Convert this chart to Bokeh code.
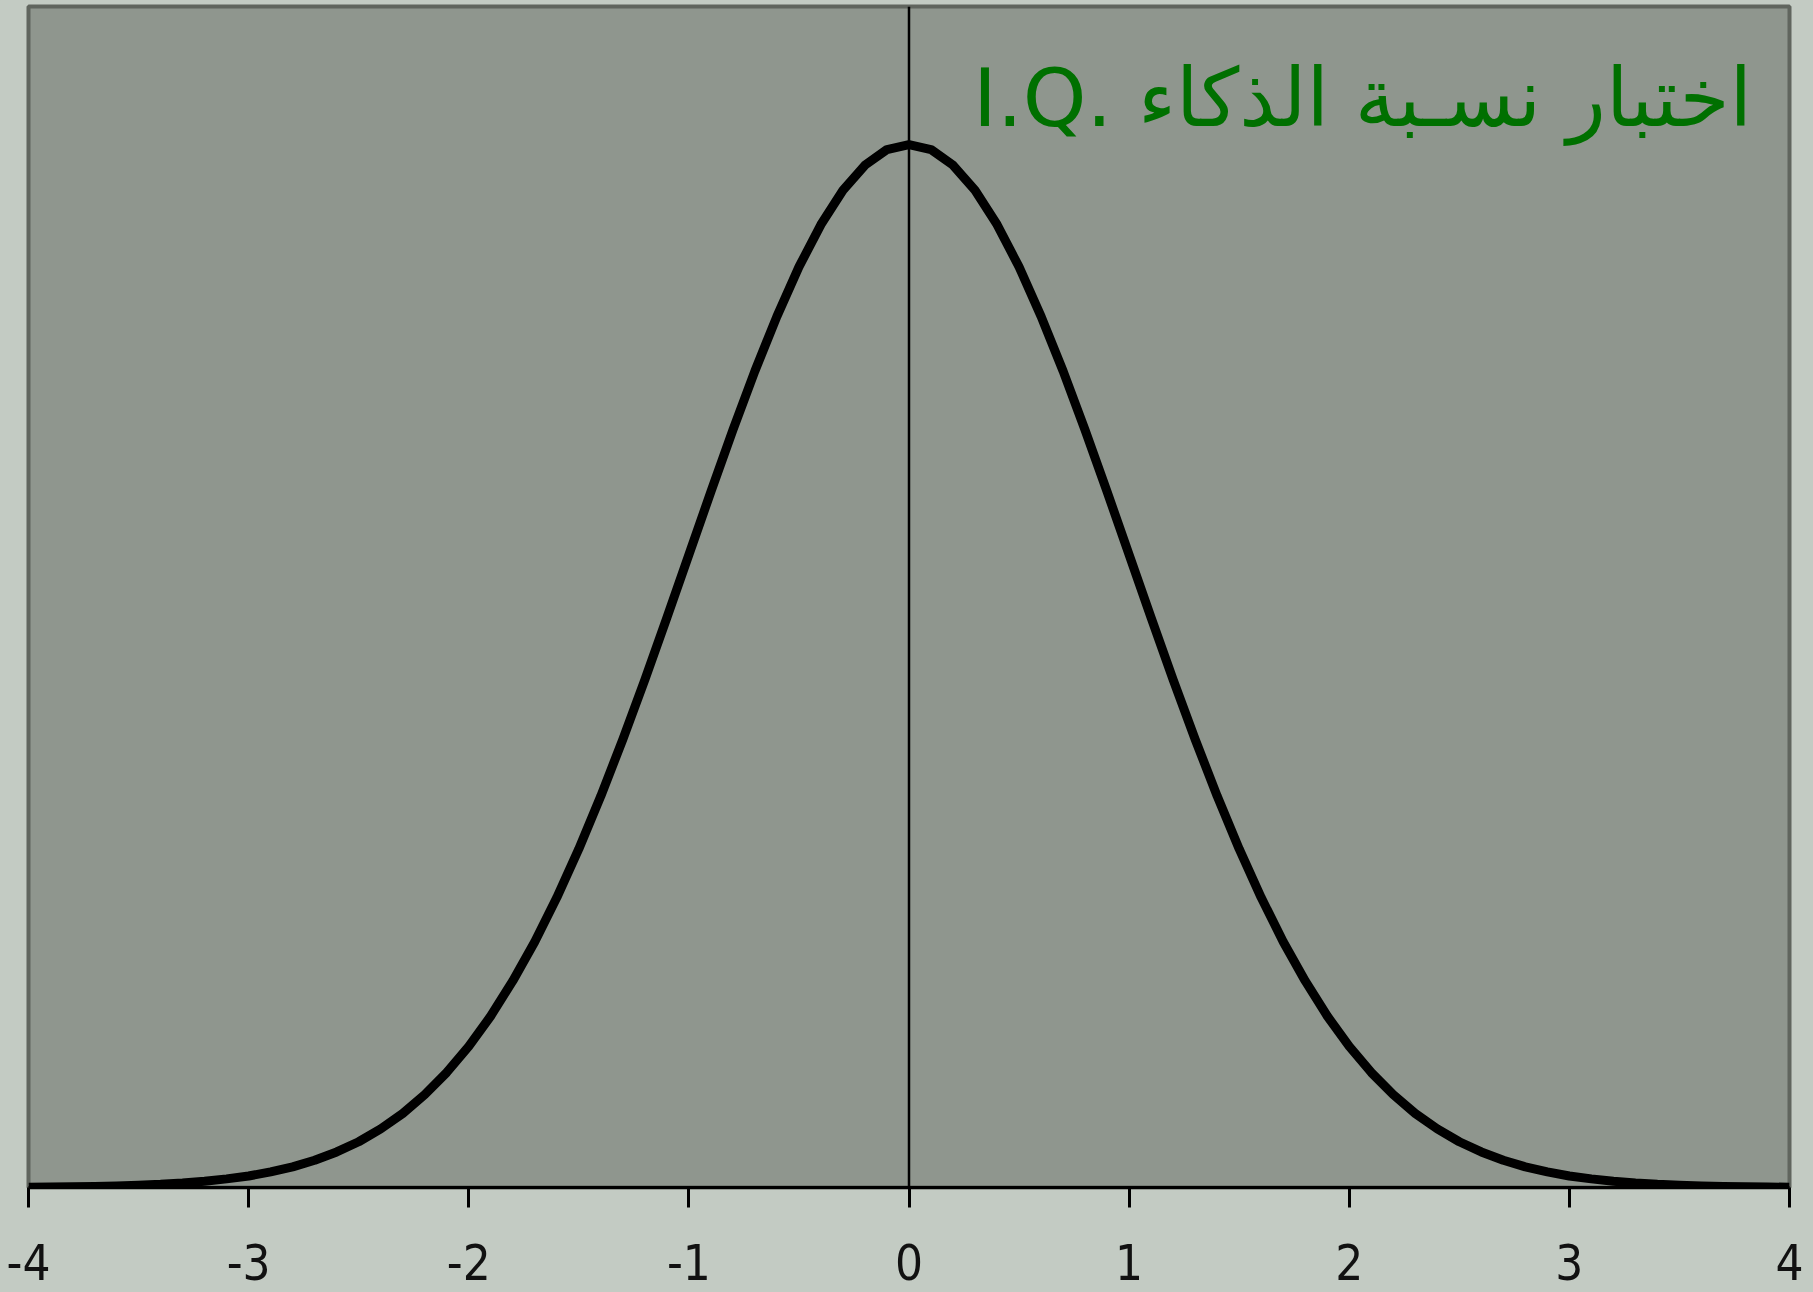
from bokeh.plotting import figure
from bokeh.models import FixedTicker, Span, Label, Range1d
from bokeh.embed import file_html
from bokeh.resources import INLINE

# x positions (standard scores) and curve heights
z_values = [round(-4 + 0.1 * i, 1) for i in range(81)]
right_half = [0.3989, 0.3970, 0.3910, 0.3814, 0.3683, 0.3521, 0.3332, 0.3123, 0.2897, 0.2661,
              0.2420, 0.2179, 0.1942, 0.1714, 0.1497, 0.1295, 0.1109, 0.0940, 0.0790, 0.0656,
              0.0540, 0.0440, 0.0355, 0.0283, 0.0224, 0.0175, 0.0136, 0.0104, 0.0079, 0.0060,
              0.0044, 0.0033, 0.0024, 0.0017, 0.0012, 0.0009, 0.0006, 0.0004, 0.0003, 0.0002,
              0.0001]
left_half = [0.0001, 0.0002, 0.0003, 0.0004, 0.0006, 0.0009, 0.0012, 0.0017, 0.0024, 0.0033,
             0.0044, 0.0060, 0.0079, 0.0104, 0.0136, 0.0175, 0.0224, 0.0283, 0.0355, 0.0440,
             0.0540, 0.0656, 0.0790, 0.0940, 0.1109, 0.1295, 0.1497, 0.1714, 0.1942, 0.2179,
             0.2420, 0.2661, 0.2897, 0.3123, 0.3332, 0.3521, 0.3683, 0.3814, 0.3910, 0.3970]
density = left_half + right_half

tick_values = [-4, -3, -2, -1, 0, 1, 2, 3, 4]
tick_labels = ["-4", "-3", "-2", "-1", "0", "1", "2", "3", "4"]
title_text = "I.Q. اختبار نسـبة الذكاء"

OUTER = "#c3cbc3"
PLOT_BG = "#8f968e"

p = figure(width=1805, height=1292, output_backend="svg", toolbar_location=None,
           x_range=Range1d(-4, 4), y_range=Range1d(0, 0.4517),
           min_border_left=28, min_border_right=16, min_border_top=6, min_border_bottom=105)
p.background_fill_color = PLOT_BG
p.border_fill_color = OUTER
p.outline_line_color = "#60655e"
p.outline_line_width = 4
p.grid.visible = False
p.yaxis.visible = False

ax = p.xaxis[0]
ax.ticker = FixedTicker(ticks=tick_values)
ax.major_label_overrides = {v: l for v, l in zip(tick_values, tick_labels)}
ax.axis_line_color = "black"
ax.axis_line_width = 3
ax.major_tick_line_color = "black"
ax.major_tick_line_width = 3
ax.major_tick_in = 0
ax.major_tick_out = 20
ax.minor_tick_line_color = None
ax.major_label_text_font = "'DejaVu Sans Condensed', 'Liberation Sans', sans-serif"
ax.major_label_text_font_size = "49px"
ax.major_label_text_color = "#111111"
ax.major_label_standoff = 36

p.add_layout(Span(location=0, dimension="height", line_color="black", line_width=2.5))

p.line(z_values, density, line_color="black", line_width=9, line_join="round")

p.add_layout(Label(x=3.83, y=0.4167, text=title_text, text_align="right",
                   text_baseline="middle", text_color="#007000",
                   text_font="DejaVu Sans", text_font_size="81px"))

html = file_html(p, INLINE)
html = html.replace("<head>", "<head><style>body{background-color:%s;}</style>" % OUTER, 1)
open("out.html", "w").write(html)
